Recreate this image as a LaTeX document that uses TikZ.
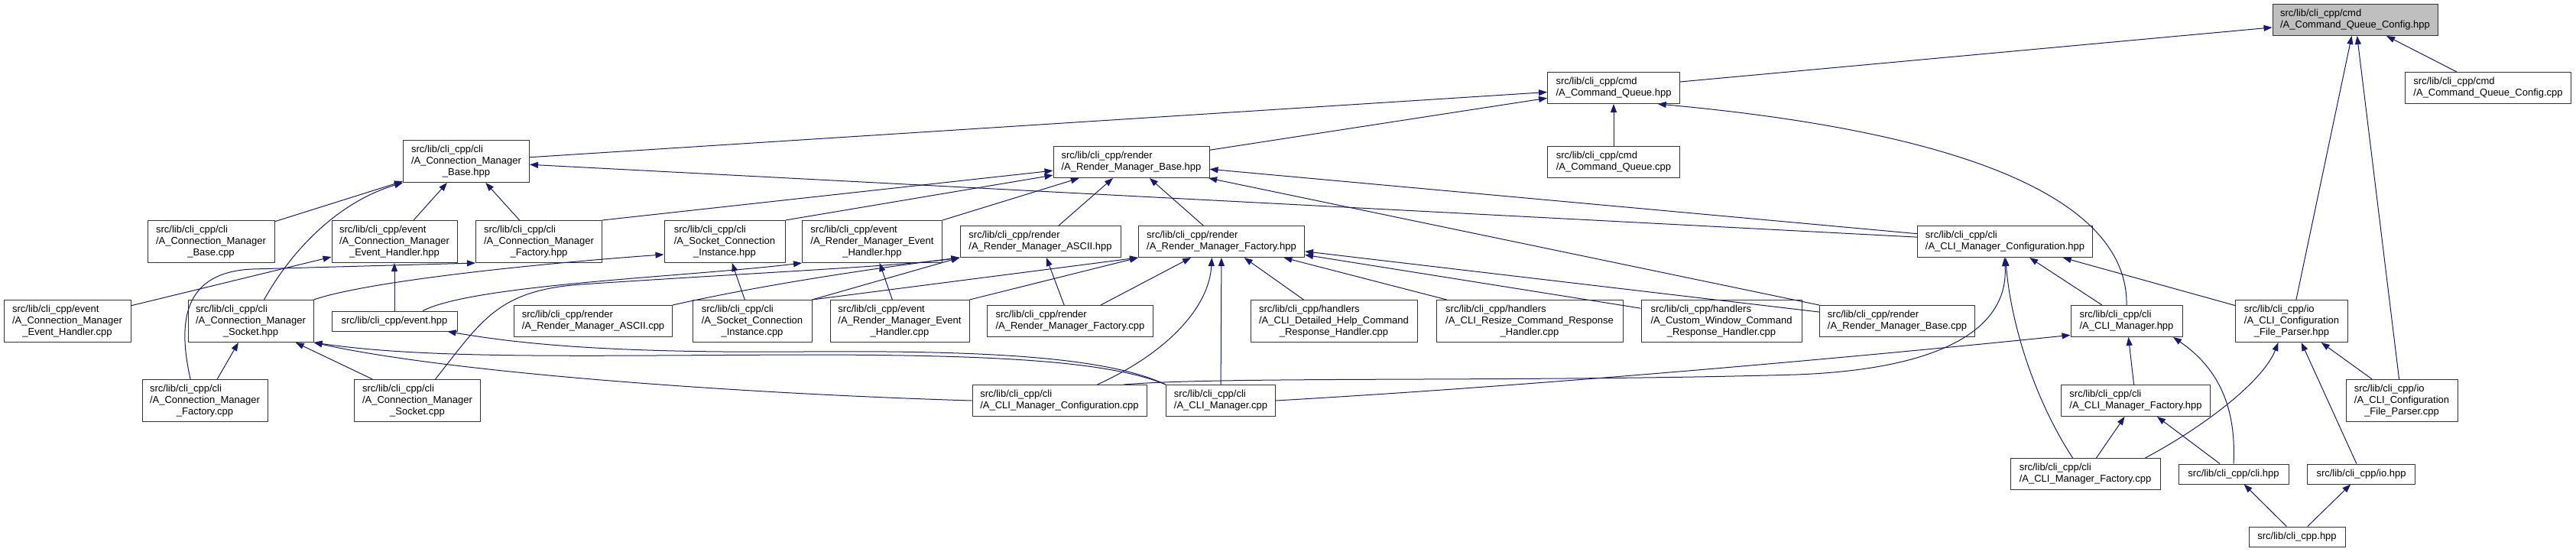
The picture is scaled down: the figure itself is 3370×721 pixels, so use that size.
\documentclass[tikz,border=0pt]{standalone}
\usepackage{fontspec}
\setmainfont{Liberation Sans}
\usetikzlibrary{arrows.meta}

\definecolor{edgeblue}{HTML}{191970}
\newcommand{\twoline}[2]{\begin{tabular}{@{}l@{}}#1\\#2\end{tabular}}
\newcommand{\threeline}[3]{\begin{tabular}{@{}l@{}}#1\\#2\\\multicolumn{1}{@{}c@{}}{#3}\end{tabular}}

\tikzset{
  filebox/.style={draw=black!80, line width=1pt, fill=white, inner sep=0pt,
    font=\fontsize{13}{15}\selectfont},
  fileone/.style={filebox, minimum height=26},
  filetwo/.style={filebox, minimum height=41},
  filethree/.style={filebox, minimum height=55},
  current/.style={fill=black!25},
  incl/.style={->, draw=edgeblue, line width=1pt}
}

\begin{document}
\begin{tikzpicture}[x=1pt, y=-1pt, >={Stealth[inset=0pt, length=11pt, width=8pt]}, line join=round]
  \useasboundingbox (0,0) rectangle (3370,721);

  % top: the file itself and what includes it directly
  \node[filetwo, current, minimum width=216] (cqc_hpp) at (3081,26) {\twoline{src/lib/cli\_cpp/cmd}{/A\_Command\_Queue\_Config.hpp}};
  \node[filetwo, minimum width=173] (cq_hpp) at (2111,115) {\twoline{src/lib/cli\_cpp/cmd}{/A\_Command\_Queue.hpp}};
  \node[filetwo, minimum width=217] (cqc_cpp) at (3255,115) {\twoline{src/lib/cli\_cpp/cmd}{/A\_Command\_Queue\_Config.cpp}};

  % rank 2
  \node[filethree, minimum width=165] (cmb_hpp) at (610,211) {\threeline{src/lib/cli\_cpp/cli}{/A\_Connection\_Manager}{\_Base.hpp}};
  \node[filetwo, minimum width=204] (rmb_hpp) at (1480,212) {\twoline{src/lib/cli\_cpp/render}{/A\_Render\_Manager\_Base.hpp}};
  \node[filetwo, minimum width=173] (cq_cpp) at (2111,212) {\twoline{src/lib/cli\_cpp/cmd}{/A\_Command\_Queue.cpp}};

  % rank 3
  \node[filethree, minimum width=166] (cmb_cpp) at (276,316) {\threeline{src/lib/cli\_cpp/cli}{/A\_Connection\_Manager}{\_Base.cpp}};
  \node[filethree, minimum width=164] (cmeh_hpp) at (516,316) {\threeline{src/lib/cli\_cpp/event}{/A\_Connection\_Manager}{\_Event\_Handler.hpp}};
  \node[filethree, minimum width=165] (cmf_hpp) at (705,316) {\threeline{src/lib/cli\_cpp/cli}{/A\_Connection\_Manager}{\_Factory.hpp}};
  \node[filethree, minimum width=158] (sci_hpp) at (948,316) {\threeline{src/lib/cli\_cpp/cli}{/A\_Socket\_Connection}{\_Instance.hpp}};
  \node[filethree, minimum width=183] (rmeh_hpp) at (1141,316) {\threeline{src/lib/cli\_cpp/event}{/A\_Render\_Manager\_Event}{\_Handler.hpp}};
  \node[filetwo, minimum width=210] (rmascii_hpp) at (1361,316) {\twoline{src/lib/cli\_cpp/render}{/A\_Render\_Manager\_ASCII.hpp}};
  \node[filetwo, minimum width=217] (rmf_hpp) at (1598,316) {\twoline{src/lib/cli\_cpp/render}{/A\_Render\_Manager\_Factory.hpp}};
  \node[filetwo, minimum width=229] (climc_hpp) at (2623,316) {\twoline{src/lib/cli\_cpp/cli}{/A\_CLI\_Manager\_Configuration.hpp}};

  % rank 4
  \node[filethree, minimum width=166] (cmeh_cpp) at (88,420) {\threeline{src/lib/cli\_cpp/event}{/A\_Connection\_Manager}{\_Event\_Handler.cpp}};
  \node[filethree, minimum width=164] (cms_hpp) at (328,420) {\threeline{src/lib/cli\_cpp/cli}{/A\_Connection\_Manager}{\_Socket.hpp}};
  \node[fileone, minimum width=164] (event_hpp) at (516,420) {src/lib/cli\_cpp/event.hpp};
  \node[filetwo, minimum width=207] (rmascii_cpp) at (776,420) {\twoline{src/lib/cli\_cpp/render}{/A\_Render\_Manager\_ASCII.cpp}};
  \node[filethree, minimum width=156] (sci_cpp) at (984,420) {\threeline{src/lib/cli\_cpp/cli}{/A\_Socket\_Connection}{\_Instance.cpp}};
  \node[filethree, minimum width=182] (rmeh_cpp) at (1177,420) {\threeline{src/lib/cli\_cpp/event}{/A\_Render\_Manager\_Event}{\_Handler.cpp}};
  \node[filetwo, minimum width=217] (rmf_cpp) at (1400,420) {\twoline{src/lib/cli\_cpp/render}{/A\_Render\_Manager\_Factory.cpp}};
  \node[filethree, minimum width=218] (dh_cpp) at (1745,420) {\threeline{src/lib/cli\_cpp/handlers}{/A\_CLI\_Detailed\_Help\_Command}{\_Response\_Handler.cpp}};
  \node[filethree, minimum width=244] (resize_cpp) at (2001,420) {\threeline{src/lib/cli\_cpp/handlers}{/A\_CLI\_Resize\_Command\_Response}{\_Handler.cpp}};
  \node[filethree, minimum width=210] (cw_cpp) at (2252,420) {\threeline{src/lib/cli\_cpp/handlers}{/A\_Custom\_Window\_Command}{\_Response\_Handler.cpp}};
  \node[filetwo, minimum width=203] (rmb_cpp) at (2482,420) {\twoline{src/lib/cli\_cpp/render}{/A\_Render\_Manager\_Base.cpp}};
  \node[filetwo, minimum width=146] (clim_hpp) at (2782,420) {\twoline{src/lib/cli\_cpp/cli}{/A\_CLI\_Manager.hpp}};
  \node[filethree, minimum width=147] (fp_hpp) at (2998,420) {\threeline{src/lib/cli\_cpp/io}{/A\_CLI\_Configuration}{\_File\_Parser.hpp}};

  % rank 5
  \node[filethree, minimum width=164] (cmf_cpp) at (268,524) {\threeline{src/lib/cli\_cpp/cli}{/A\_Connection\_Manager}{\_Factory.cpp}};
  \node[filethree, minimum width=165] (cms_cpp) at (546,524) {\threeline{src/lib/cli\_cpp/cli}{/A\_Connection\_Manager}{\_Socket.cpp}};
  \node[filetwo, minimum width=228] (climc_cpp) at (1386,524) {\twoline{src/lib/cli\_cpp/cli}{/A\_CLI\_Manager\_Configuration.cpp}};
  \node[filetwo, minimum width=143] (clim_cpp) at (1597,524) {\twoline{src/lib/cli\_cpp/cli}{/A\_CLI\_Manager.cpp}};
  \node[filetwo, minimum width=195] (climf_hpp) at (2794,524) {\twoline{src/lib/cli\_cpp/cli}{/A\_CLI\_Manager\_Factory.hpp}};
  \node[filethree, minimum width=146] (fp_cpp) at (3142,524) {\threeline{src/lib/cli\_cpp/io}{/A\_CLI\_Configuration}{\_File\_Parser.cpp}};

  % bottom ranks
  \node[filetwo, minimum width=196] (climf_cpp) at (2728,620) {\twoline{src/lib/cli\_cpp/cli}{/A\_CLI\_Manager\_Factory.cpp}};
  \node[fileone, minimum width=144] (cli_hpp) at (2922,620) {src/lib/cli\_cpp/cli.hpp};
  \node[fileone, minimum width=141] (io_hpp) at (3089,620) {src/lib/cli\_cpp/io.hpp};
  \node[fileone, minimum width=126] (clicpp_hpp) at (3005,702) {src/lib/cli\_cpp.hpp};

  % includes of A_Command_Queue_Config.hpp
  \draw[incl] (cq_hpp) -- (cqc_hpp);
  \draw[incl] (cqc_cpp) -- (cqc_hpp);
  \draw[incl] (fp_hpp) -- (cqc_hpp);
  \draw[incl] (fp_cpp) -- (cqc_hpp);

  % A_Command_Queue.hpp
  \draw[incl] (cq_cpp) -- (cq_hpp);
  \draw[incl] (cmb_hpp) -- (cq_hpp);
  \draw[incl] (rmb_hpp) -- (cq_hpp);
  \draw[incl] (clim_hpp.north) .. controls (2784,290) and (2650,180) .. (cq_hpp.-20);

  % A_Connection_Manager_Base.hpp
  \draw[incl] (cmb_cpp) -- (cmb_hpp);
  \draw[incl] (cmeh_hpp) -- (cmb_hpp);
  \draw[incl] (cmf_hpp) -- (cmb_hpp);
  \draw[incl] (cms_hpp.58) .. controls (380,330) and (440,265) .. (cmb_hpp.south west);
  \draw[incl] (climc_hpp) -- (cmb_hpp);

  % A_Render_Manager_Base.hpp
  \draw[incl] (climc_hpp) -- (rmb_hpp);
  \draw[incl] (cmf_hpp.north east) -- (rmb_hpp);
  \draw[incl] (sci_hpp.north east) -- (rmb_hpp);
  \draw[incl] (rmeh_hpp.north east) -- (rmb_hpp);
  \draw[incl] (rmascii_hpp) -- (rmb_hpp);
  \draw[incl] (rmf_hpp) -- (rmb_hpp);
  \draw[incl] (rmb_cpp) -- (rmb_hpp);

  % connection manager side
  \draw[incl] (cmeh_cpp) -- (cmeh_hpp);
  \draw[incl] (event_hpp) -- (cmeh_hpp);
  \draw[incl] (cmf_cpp.124) .. controls (232,420) and (240,356) .. (330,352) -- (cmf_hpp.south west);
  \draw[incl] (cms_hpp.north east) .. controls (480,368) and (700,345) .. (sci_hpp.192);
  \draw[incl] (event_hpp.20) .. controls (620,372) and (900,362) .. (rmeh_hpp.south west);
  \draw[incl] (cmf_cpp) -- (cms_hpp);
  \draw[incl] (cms_cpp) -- (cms_hpp);
  \draw[incl] (climc_cpp.west) .. controls (1000,516) and (600,490) .. (cms_hpp.south east);
  \draw[incl] (clim_cpp.north west) .. controls (1450,472) and (1300,464) .. (1050,464)
    .. controls (760,465) and (560,470) .. (cms_hpp.south east);
  \draw[incl] (clim_cpp.north west) .. controls (1450,468) and (1300,458) .. (1050,460)
    .. controls (800,462) and (680,450) .. (event_hpp.-11);
  \draw[incl] (sci_cpp) -- (sci_hpp);
  \draw[incl] (rmeh_cpp) -- (rmeh_hpp);

  % A_Render_Manager_ASCII.hpp
  \draw[incl] (cms_cpp.50) .. controls (630,420) and (650,380) .. (760,372)
    .. controls (1000,356) and (1180,348) .. (rmascii_hpp.south west);
  \draw[incl] (sci_cpp.north east) -- (rmascii_hpp.south west);
  \draw[incl] (rmascii_cpp.north east) .. controls (1000,372) and (1150,350) .. (rmascii_hpp.south west);
  \draw[incl] (rmf_cpp) -- (rmascii_hpp);

  % A_Render_Manager_Factory.hpp
  \draw[incl] (sci_cpp.north east) -- (rmf_hpp.south west);
  \draw[incl] (rmeh_cpp.north east) -- (rmf_hpp.south west);
  \draw[incl] (rmf_cpp) -- (rmf_hpp);
  \draw[incl] (climc_cpp.23) .. controls (1530,460) and (1582,400) .. (rmf_hpp.-121);
  \draw[incl] (clim_cpp) -- (rmf_hpp);
  \draw[incl] (dh_cpp) -- (rmf_hpp);
  \draw[incl] (resize_cpp) -- (rmf_hpp);
  \draw[incl] (cw_cpp) -- (rmf_hpp);
  \draw[incl] (rmb_cpp) -- (rmf_hpp);

  % A_CLI_Manager_Configuration.hpp
  \draw[incl] (climc_cpp.14) .. controls (1600,492) and (2000,500) .. (2350,490)
    .. controls (2560,482) and (2628,420) .. (climc_hpp.-92);
  \draw[incl] (climf_cpp.128) .. controls (2660,520) and (2630,420) .. (climc_hpp.-88);
  \draw[incl] (clim_hpp) -- (climc_hpp);
  \draw[incl] (fp_hpp) -- (climc_hpp);

  % A_CLI_Manager.hpp and below
  \draw[incl] (clim_cpp.east) .. controls (2000,505) and (2400,470) .. (clim_hpp.194);
  \draw[incl] (climf_hpp) -- (clim_hpp);
  \draw[incl] (cli_hpp.north) .. controls (2926,530) and (2900,480) .. (clim_hpp.-19);
  \draw[incl] (climf_cpp) -- (climf_hpp);
  \draw[incl] (cli_hpp) -- (climf_hpp);
  \draw[incl] (fp_cpp) -- (fp_hpp);
  \draw[incl] (climf_cpp.15) .. controls (2880,560) and (2960,500) .. (fp_hpp.-122);
  \draw[incl] (io_hpp) -- (fp_hpp);
  \draw[incl] (clicpp_hpp) -- (cli_hpp);
  \draw[incl] (clicpp_hpp) -- (io_hpp);
\end{tikzpicture}
\end{document}
